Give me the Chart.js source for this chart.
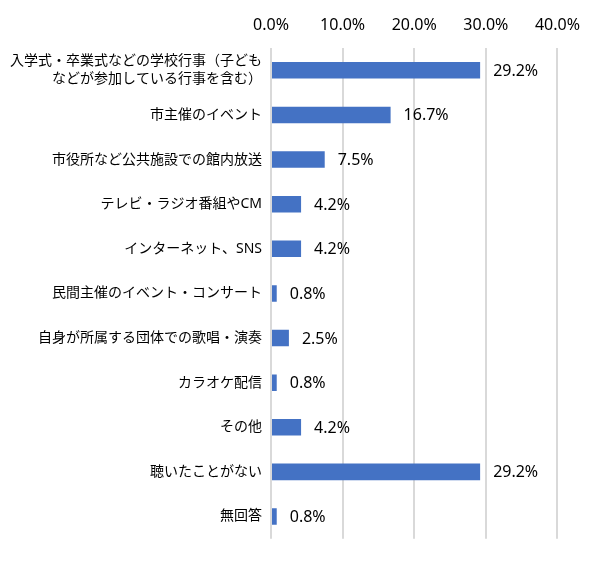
<!DOCTYPE html>
<html>
<head>
<meta charset="utf-8">
<script src="https://cdn.jsdelivr.net/npm/chart.js@4.4.0/dist/chart.umd.min.js"></script>
<style>
html,body{margin:0;padding:0;background:#fff;}
#wrap{width:593px;height:566px;position:relative;}
</style>
</head>
<body>
<div id="wrap"><canvas id="c"></canvas></div>
<script>
const categories = [
  ["入学式・卒業式などの学校行事（子ども", "などが参加している行事を含む）"],
  "市主催のイベント",
  "市役所など公共施設での館内放送",
  "テレビ・ラジオ番組やCM",
  "インターネット、SNS",
  "民間主催のイベント・コンサート",
  "自身が所属する団体での歌唱・演奏",
  "カラオケ配信",
  "その他",
  "聴いたことがない",
  "無回答"
];
const values = [29.2, 16.7, 7.5, 4.2, 4.2, 0.8, 2.5, 0.8, 4.2, 29.2, 0.8];
const tickValues = [0, 10, 20, 30, 40];

const FONT = '"Noto Sans", "Noto Sans CJK JP", sans-serif';

const valueLabels = {
  id: 'valueLabels',
  afterDatasetsDraw(chart) {
    const ctx = chart.ctx;
    const meta = chart.getDatasetMeta(0);
    ctx.save();
    ctx.font = '16px ' + FONT;
    ctx.fillStyle = '#000';
    ctx.textAlign = 'left';
    ctx.textBaseline = 'middle';
    meta.data.forEach((bar, i) => {
      ctx.fillText(values[i].toFixed(1) + '%', bar.x + 13, bar.y + 1);
    });
    ctx.restore();
  }
};

new Chart(document.getElementById('c'), {
  type: 'bar',
  data: {
    labels: categories,
    datasets: [{
      data: values,
      backgroundColor: '#4472C4',
      borderWidth: 0,
      barPercentage: 0.37,
      categoryPercentage: 1.0
    }]
  },
  options: {
    indexAxis: 'y',
    responsive: true,
    maintainAspectRatio: false,
    animation: false,
    layout: { padding: { left: 0, right: 32, top: 0, bottom: 22 } },
    plugins: { legend: { display: false }, tooltip: { enabled: false } },
    scales: {
      x: {
        position: 'top',
        min: 0, max: 40,
        afterBuildTicks(scale) { scale.ticks = tickValues.map(v => ({ value: v })); },
        afterFit(scale) { scale.height = 48; },
        grid: { color: '#d9d9d9', lineWidth: 2, drawTicks: false },
        border: { display: false },
        ticks: {
          padding: 13,
          color: '#000',
          font: { family: FONT, size: 16 },
          callback: v => v.toFixed(1) + '%'
        }
      },
      y: {
        afterFit(scale) { scale.width = 271; },
        grid: { display: false, drawTicks: false },
        border: { display: false },
        ticks: {
          padding: 9,
          color: '#000',
          font: { family: FONT, size: 14, lineHeight: 1.3 }
        }
      }
    }
  },
  plugins: [valueLabels]
});
</script>
</body>
</html>
